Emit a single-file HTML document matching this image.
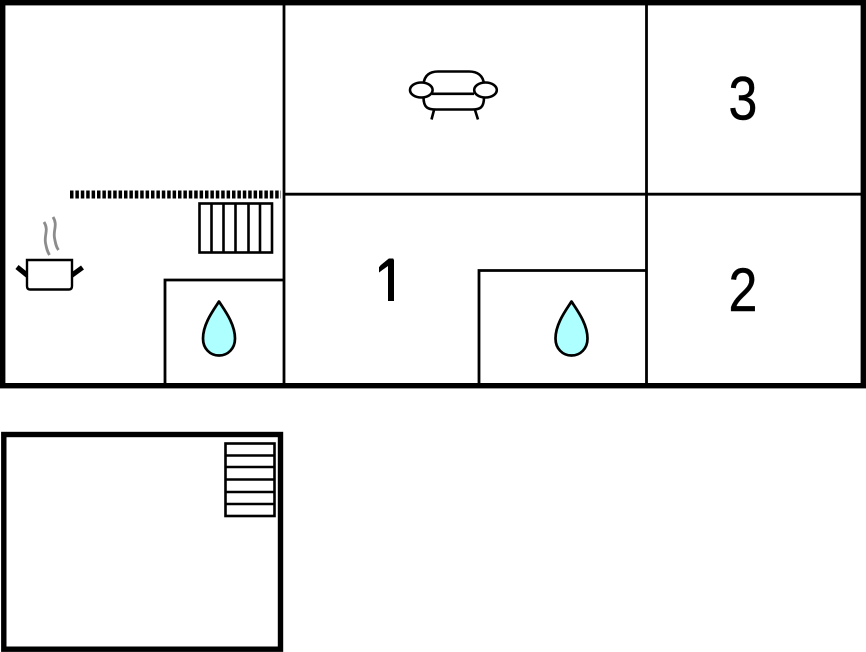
<!DOCTYPE html>
<html>
<head>
<meta charset="utf-8">
<style>
html,body{margin:0;padding:0;background:#fff;width:866px;height:652px;overflow:hidden}
svg{display:block}
text{font-family:"Liberation Sans",sans-serif;fill:#000;stroke:#000;stroke-width:.5px;font-size:61px}
</style>
</head>
<body>
<svg width="866" height="652" viewBox="0 0 866 652" xmlns="http://www.w3.org/2000/svg">
<defs>
<path id="drop" d="M0 0 C5 8 16 22 16 37 C16 47 9 54 0 54 C-9 54 -16 47 -16 37 C-16 22 -5 8 0 0 Z" fill="#aeffff" stroke="#000" stroke-width="2.7" stroke-linejoin="round"/>
</defs>
<rect width="866" height="652" fill="#fff"/>

<!-- interior walls -->
<g stroke="#000" stroke-width="2.8" fill="none">
<line x1="284" y1="3" x2="284" y2="385"/>
<line x1="646.500" y1="3" x2="646.500" y2="385"/>
<line x1="284" y1="194.200" x2="862" y2="194.200"/>
<polyline points="165,385 165,280 284,280"/>
<polyline points="479,385 479,270.500 646,270.500"/>
</g>

<!-- outer walls -->
<rect x="2.700" y="2.700" width="860.600" height="383" fill="none" stroke="#000" stroke-width="5.400"/>
<rect x="3.800" y="434.500" width="276.700" height="214.700" fill="none" stroke="#000" stroke-width="5.400"/>

<!-- dashed rail -->
<line x1="70" y1="194.500" x2="281" y2="194.500" stroke="#000" stroke-width="8" stroke-dasharray="3.500 1.900"/>

<!-- radiator / stairs -->
<g stroke="#000" stroke-width="2.600" fill="none">
<rect x="199.500" y="203.500" width="72.500" height="49"/>
<line x1="211.500" y1="203.500" x2="211.500" y2="252.500"/>
<line x1="223.500" y1="203.500" x2="223.500" y2="252.500"/>
<line x1="235.500" y1="203.500" x2="235.500" y2="252.500"/>
<line x1="248.500" y1="203.500" x2="248.500" y2="252.500"/>
<line x1="260" y1="203.500" x2="260" y2="252.500"/>
</g>
<g stroke="#000" stroke-width="2.600" fill="none">
<rect x="225.500" y="443.500" width="49" height="72.500"/>
<line x1="225.500" y1="455.500" x2="274.500" y2="455.500"/>
<line x1="225.500" y1="467" x2="274.500" y2="467"/>
<line x1="225.500" y1="479.500" x2="274.500" y2="479.500"/>
<line x1="225.500" y1="492" x2="274.500" y2="492"/>
<line x1="225.500" y1="504" x2="274.500" y2="504"/>
</g>

<!-- drops -->
<use href="#drop" x="219" y="301.500"/>
<use href="#drop" x="571.500" y="301.500"/>

<!-- pot -->
<g fill="none" stroke="#000">
<line x1="17" y1="267" x2="27.500" y2="275.500" stroke-width="5"/>
<line x1="82.500" y1="267.500" x2="71.500" y2="275.500" stroke-width="5"/>
<path d="M27 260 H72 V286 Q72 289.500 69 289.500 H30 Q27 289.500 27 286 Z" stroke-width="2.400" fill="#fff"/>
</g>
<g fill="none" stroke="#8c8c8c" stroke-width="2.800">
<path d="M44 222 C49 230 44 235 45.500 243 C46.500 248 47 251 49.500 255"/>
<path d="M53 217 C58 225 53 230 54.500 238 C55.500 243 56 247 58.500 250"/>
</g>

<!-- sofa -->
<g fill="none" stroke="#000" stroke-width="2.600">
<path d="M423.500 84 C424.500 75 430 71.500 438 71.500 H469 C477 71.500 483 75 484 84"/>
<path d="M423.500 97 C423.500 108 428 109.500 436 109.500 H472 C480 109.500 484 108 484 97"/>
<line x1="432" y1="93.800" x2="474" y2="93.800"/>
<ellipse cx="421.300" cy="90" rx="11.300" ry="7.500" fill="#fff"/>
<ellipse cx="485.500" cy="90" rx="11.300" ry="7.500" fill="#fff"/>
<line x1="434" y1="110" x2="431.500" y2="119.500"/>
<line x1="475" y1="110" x2="478" y2="119.500"/>
</g>

<!-- numbers -->
<text transform="translate(375.500 301) scale(.85 1)">1</text>
<rect x="374" y="293" width="31" height="10" fill="#fff"/>
<rect x="388" y="261" width="6" height="40" fill="#000"/>
<path d="M379 267 L388 259.500 H394 V266 H388 L379 272.500 Z" fill="#000"/>
<text transform="translate(728.500 311) scale(.85 1)">2</text>
<text transform="translate(728.500 119.500) scale(.85 1)">3</text>
</svg>
</body>
</html>
